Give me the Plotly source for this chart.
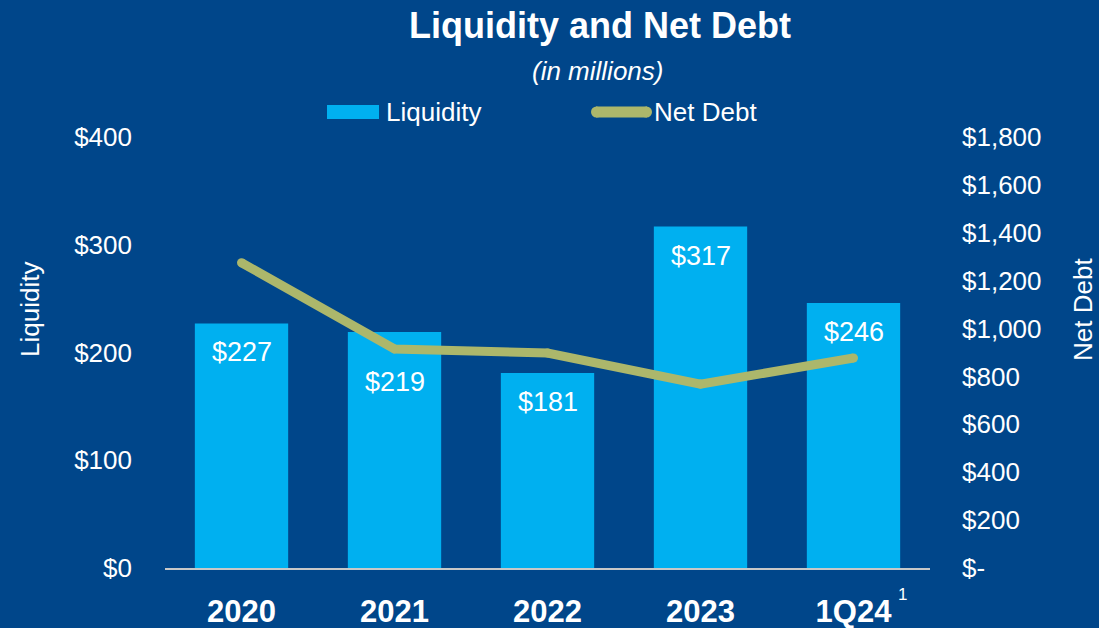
import plotly.graph_objects as go

categories = ["2020", "2021", "2022", "2023", "1Q24"]
liquidity = [227, 219, 181, 317, 246]
net_debt = [1275, 915, 898, 768, 877]
left_ticks = [0, 100, 200, 300, 400]
left_ticktext = ["$0", "$100", "$200", "$300", "$400"]
right_ticks = [0, 200, 400, 600, 800, 1000, 1200, 1400, 1600, 1800]
right_ticktext = ["$-", "$200", "$400", "$600", "$800", "$1,000", "$1,200", "$1,400", "$1,600", "$1,800"]
label_shift = [-29, -50, -29, -30, -29]

BG = "#00468A"
BAR = "#00B0F0"
LINE = "#ACB76B"
FONT = "Liberation Sans, Arial, sans-serif"

L, R, T, B = 165, 169, 137, 60
PW, PH = 1099 - L - R, 628 - T - B


def px(x):
    return (x - L) / PW


def py(y):
    return (628 - B - y) / PH


fig = go.Figure()
fig.add_trace(go.Bar(x=categories, y=liquidity, name="Liquidity", marker=dict(color=BAR, line=dict(width=0)),
                     width=0.61, yaxis="y", showlegend=False))
fig.add_trace(go.Scatter(x=categories, y=net_debt, name="Net Debt", mode="lines+markers",
                         line=dict(color=LINE, width=9), marker=dict(color=LINE, size=9),
                         yaxis="y2", showlegend=False))

annotations = []
for i, (v, s) in enumerate(zip(liquidity, label_shift)):
    annotations.append(dict(x=i, y=v, xref="x", yref="y", text=f"${v}", showarrow=False,
                            xanchor="center", yanchor="middle",
                            yshift=s, font=dict(family=FONT, size=27, color="white")))


def pa(x, y, text, size, **kw):
    d = dict(xref="paper", yref="paper", x=px(x), y=py(y), text=text, showarrow=False,
             xanchor="center", yanchor="middle", font=dict(family=FONT, size=size, color="white"))
    d.update(kw)
    return d


annotations += [
    pa(600, 25, "<b>Liquidity and Net Debt</b>", 36),
    pa(597, 71, "<i>(in millions)</i>", 26),
    pa(384, 112, "Liquidity", 26, xanchor="left"),
    pa(652, 112, "Net Debt", 26, xanchor="left"),
    pa(30, 310, "Liquidity", 26, textangle=-90),
    pa(1083, 310, "Net Debt", 26, textangle=-90),
    dict(xref="x", yref="paper", x=len(categories) - 1, y=py(594), xshift=49, text="1",
         showarrow=False, xanchor="center", yanchor="middle",
         font=dict(family=FONT, size=17, color="white")),
]

shapes = [
    dict(type="rect", xref="paper", yref="paper", x0=px(327), x1=px(379), y0=py(119), y1=py(105),
         fillcolor=BAR, line=dict(width=0)),
    dict(type="line", xref="paper", yref="paper", x0=px(596), x1=px(647), y0=py(112), y1=py(112),
         line=dict(color=LINE, width=11)),
    dict(type="circle", xref="paper", yref="paper", x0=px(591), x1=px(602), y0=py(117.5), y1=py(106.5),
         fillcolor=LINE, line=dict(width=0)),
    dict(type="circle", xref="paper", yref="paper", x0=px(641), x1=px(652), y0=py(117.5), y1=py(106.5),
         fillcolor=LINE, line=dict(width=0)),
]

fig.update_layout(
    width=1099, height=628, autosize=False,
    paper_bgcolor=BG, plot_bgcolor=BG,
    margin=dict(l=L, r=R, t=T, b=B, pad=0, autoexpand=False),
    font=dict(family=FONT, color="white"),
    showlegend=False,
    annotations=annotations,
    shapes=shapes,
    xaxis=dict(type="category", range=[-0.5, len(categories) - 0.5], showgrid=False, showline=True,
               linecolor="#C8C8C8", linewidth=2, ticks="", automargin=False,
               tickfont=dict(family=FONT, size=31, color="white", weight="bold"),
               ticklabelstandoff=15),
    yaxis=dict(range=[0, 400], tickvals=left_ticks, ticktext=left_ticktext, showgrid=False,
               zeroline=False, showline=False, ticks="", ticklabelstandoff=32, automargin=False,
               tickfont=dict(family=FONT, size=26, color="white")),
    yaxis2=dict(range=[0, 1800], tickvals=right_ticks, ticktext=right_ticktext, overlaying="y",
                side="right", showgrid=False, zeroline=False, showline=False, ticks="",
                ticklabelstandoff=31, automargin=False,
                tickfont=dict(family=FONT, size=26, color="white")),
)

fig.write_html("out.html", config={"displayModeBar": False},
               post_script="document.body.style.margin='0';document.body.style.overflow='hidden';")
